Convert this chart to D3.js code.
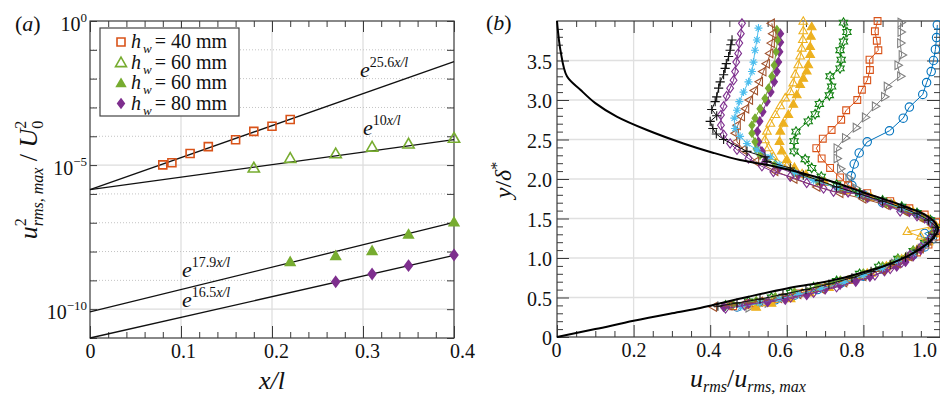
<!DOCTYPE html>
<html><head><meta charset="utf-8">
<script src="https://cdn.jsdelivr.net/npm/d3@7"></script>
<style>
body{margin:0;background:#fff}
svg{display:block}
svg text{fill:#111}
</style>
</head><body>
<svg id="c" width="940" height="400"></svg>
<script>
// ================= DATA: panel (a) =================
const aSqX=[0.08,0.09,0.11,0.13,0.16,0.18,0.20,0.22];
const aSqY=[1.02e-5,1.20e-5,2.51e-5,4.37e-5,7.59e-5,1.48e-4,2.24e-4,3.80e-4];
const aOpenTriX=[0.18,0.22,0.27,0.31,0.35,0.40];
const aOpenTriY=[8.1e-6,1.74e-5,2.51e-5,4.27e-5,5.5e-5,8.7e-5];
const aFillTriX=[0.22,0.27,0.31,0.35,0.40];
const aFillTriY=[4.47e-9,7.24e-9,1.07e-8,3.98e-8,1.07e-7];
const aDiaX=[0.27,0.31,0.35,0.40];
const aDiaY=[8.9e-10,1.66e-9,3.24e-9,7.6e-9];
const fitRates=["25.6","10","17.9","16.5"];
const fitAmps=[1.4e-6,1.4e-6,8e-11,1e-11];
const fitLabelX=[0.2967,0.300,0.101,0.101];
const fitLabelY=[1.14e-2,1.1e-4,1.35e-9,1.2e-10];
const legendValues=["40","60","60","80"];
const aXMajor=[0,0.1,0.2,0.3,0.4];
const aXMinor=[0.02,0.04,0.06,0.08,0.12,0.14,0.16,0.18,0.22,0.24,0.26,0.28,0.32,0.34,0.36,0.38];
const aYDecades=[1,1e-1,1e-2,1e-3,1e-4,1e-5,1e-6,1e-7,1e-8,1e-9,1e-10,1e-11];
const aYLabelled=[[1,"0"],[1e-5,"\u22125"],[1e-10,"\u221210"]];

// ================= DATA: panel (b) =================
const bBlueCircle=[[0.47,0.38],[0.52,0.42],[0.57,0.47],[0.62,0.53],[0.68,0.60],[0.74,0.68],[0.80,0.77],[0.85,0.86],[0.89,0.95],[0.93,1.04],[0.96,1.14],[0.98,1.24],[0.96,1.31],[0.99,1.38],[0.975,1.47],[0.94,1.56],[0.90,1.63],[0.85,1.70],[0.80,1.80],[0.77,1.92],[0.768,2.04],[0.776,2.19],[0.789,2.33],[0.81,2.47],[0.868,2.61],[0.904,2.77],[0.92,2.91],[0.955,3.07],[0.965,3.22],[0.977,3.36],[0.983,3.50],[0.988,3.64],[0.991,3.79],[0.993,3.95]];
const bGreyTri=[[0.50,0.37],[0.55,0.43],[0.60,0.49],[0.66,0.57],[0.72,0.65],[0.78,0.74],[0.84,0.84],[0.88,0.93],[0.92,1.02],[0.95,1.12],[0.98,1.22],[0.99,1.32],[0.985,1.42],[0.96,1.52],[0.92,1.60],[0.88,1.68],[0.82,1.77],[0.78,1.88],[0.761,2.01],[0.739,2.13],[0.73,2.26],[0.73,2.39],[0.752,2.52],[0.78,2.65],[0.804,2.78],[0.83,2.92],[0.854,3.04],[0.861,3.17],[0.896,3.30],[0.889,3.44],[0.90,3.57],[0.896,3.72],[0.897,3.86],[0.897,3.98]];
const bRedSquare=[[0.46,0.39],[0.51,0.43],[0.57,0.48],[0.63,0.55],[0.69,0.62],[0.75,0.70],[0.81,0.79],[0.86,0.88],[0.90,0.97],[0.94,1.07],[0.97,1.17],[0.99,1.27],[1.0,1.37],[0.99,1.46],[0.96,1.55],[0.92,1.63],[0.87,1.72],[0.81,1.82],[0.76,1.92],[0.739,2.02],[0.713,2.14],[0.691,2.26],[0.677,2.39],[0.694,2.51],[0.717,2.62],[0.742,2.75],[0.755,2.87],[0.784,3.00],[0.796,3.13],[0.81,3.25],[0.817,3.38],[0.816,3.51],[0.839,3.63],[0.835,3.75],[0.83,3.87],[0.837,4.0]];
const bDarkGreenHex=[[0.44,0.40],[0.50,0.45],[0.56,0.50],[0.61,0.56],[0.67,0.63],[0.73,0.71],[0.79,0.80],[0.84,0.89],[0.89,0.99],[0.93,1.09],[0.96,1.19],[0.98,1.29],[0.99,1.39],[0.975,1.48],[0.94,1.57],[0.90,1.65],[0.85,1.73],[0.79,1.82],[0.73,1.93],[0.69,2.03],[0.665,2.14],[0.648,2.25],[0.619,2.35],[0.619,2.48],[0.624,2.60],[0.656,2.73],[0.674,2.82],[0.685,2.95],[0.711,3.06],[0.717,3.17],[0.713,3.30],[0.739,3.40],[0.742,3.51],[0.739,3.63],[0.748,3.74],[0.757,3.86],[0.748,3.98]];
const bYellowTri=[[0.52,0.37],[0.56,0.42],[0.61,0.48],[0.66,0.55],[0.71,0.62],[0.77,0.71],[0.82,0.80],[0.87,0.90],[0.91,1.00],[0.94,1.10],[0.97,1.20],[0.985,1.30],[0.99,1.40],[0.97,1.49],[0.93,1.58],[0.88,1.67],[0.82,1.76],[0.76,1.85],[0.70,1.95],[0.65,2.05],[0.62,2.14],[0.60,2.24],[0.587,2.35],[0.581,2.47],[0.583,2.60],[0.591,2.70],[0.604,2.81],[0.617,2.94],[0.626,3.06],[0.635,3.19],[0.643,3.27],[0.652,3.36],[0.656,3.44],[0.661,3.57],[0.661,3.67],[0.663,3.80],[0.665,3.92]];
const bYellowOpenTri=[[0.50,0.39],[0.54,0.43],[0.59,0.49],[0.64,0.55],[0.70,0.63],[0.76,0.71],[0.81,0.80],[0.86,0.89],[0.90,0.98],[0.93,1.08],[0.96,1.18],[0.95,1.27],[0.915,1.33],[0.98,1.40],[0.96,1.50],[0.92,1.59],[0.87,1.68],[0.81,1.77],[0.75,1.86],[0.69,1.96],[0.64,2.06],[0.60,2.16],[0.565,2.28],[0.552,2.39],[0.543,2.49],[0.548,2.60],[0.557,2.70],[0.57,2.81],[0.583,2.92],[0.596,3.02],[0.609,3.10],[0.617,3.21],[0.622,3.32],[0.63,3.44],[0.635,3.55],[0.639,3.65],[0.642,3.76],[0.643,3.87],[0.643,3.99]];
const bPurpleDiamond=[[0.435,0.38],[0.50,0.42],[0.55,0.44],[0.596,0.47],[0.652,0.53],[0.70,0.60],[0.739,0.66],[0.78,0.71],[0.817,0.76],[0.855,0.83],[0.887,0.89],[0.91,0.95],[0.93,1.02],[0.95,1.10],[0.965,1.19],[0.98,1.30],[0.985,1.40],[0.96,1.50],[0.92,1.58],[0.87,1.67],[0.81,1.76],[0.75,1.86],[0.69,1.95],[0.63,2.05],[0.58,2.14],[0.545,2.24],[0.535,2.35],[0.526,2.47],[0.523,2.60],[0.529,2.73],[0.537,2.85],[0.548,2.98],[0.558,3.10],[0.567,3.23],[0.574,3.36],[0.578,3.48],[0.581,3.61],[0.583,3.73],[0.583,3.84]];
const bGreenDiamond=[[0.46,0.41],[0.52,0.46],[0.57,0.51],[0.62,0.57],[0.68,0.64],[0.74,0.72],[0.80,0.81],[0.85,0.90],[0.89,0.99],[0.93,1.10],[0.96,1.20],[0.98,1.31],[0.98,1.41],[0.955,1.51],[0.91,1.60],[0.86,1.69],[0.80,1.78],[0.74,1.87],[0.68,1.97],[0.62,2.08],[0.57,2.19],[0.53,2.30],[0.52,2.38],[0.517,2.47],[0.509,2.58],[0.509,2.68],[0.517,2.77],[0.530,2.89],[0.543,3.02],[0.552,3.15],[0.561,3.30],[0.567,3.44],[0.572,3.61],[0.576,3.76],[0.574,3.89]];
const bBrownTri=[[0.41,0.38],[0.45,0.40],[0.49,0.42],[0.53,0.45],[0.58,0.49],[0.63,0.54],[0.69,0.61],[0.75,0.69],[0.80,0.77],[0.85,0.85],[0.89,0.93],[0.92,1.02],[0.95,1.12],[0.97,1.22],[0.985,1.32],[0.98,1.42],[0.95,1.51],[0.91,1.59],[0.86,1.67],[0.80,1.75],[0.74,1.82],[0.68,1.90],[0.62,2.00],[0.57,2.10],[0.52,2.22],[0.487,2.37],[0.47,2.47],[0.467,2.58],[0.472,2.68],[0.483,2.79],[0.494,2.89],[0.504,3.00],[0.517,3.12],[0.53,3.23],[0.539,3.36],[0.548,3.46],[0.557,3.59],[0.561,3.72],[0.565,3.84],[0.561,3.97]];
const bCyanAsterisk=[[0.48,0.38],[0.53,0.43],[0.58,0.48],[0.63,0.54],[0.69,0.61],[0.75,0.69],[0.80,0.78],[0.85,0.87],[0.89,0.96],[0.93,1.06],[0.96,1.16],[0.98,1.26],[0.99,1.36],[0.975,1.46],[0.94,1.55],[0.90,1.63],[0.85,1.71],[0.79,1.80],[0.73,1.89],[0.67,1.98],[0.62,2.08],[0.58,2.18],[0.557,2.28],[0.522,2.37],[0.496,2.45],[0.478,2.54],[0.465,2.64],[0.463,2.77],[0.47,2.87],[0.476,2.98],[0.487,3.10],[0.50,3.23],[0.509,3.36],[0.513,3.48],[0.517,3.63],[0.522,3.76],[0.526,3.91]];
const bPurpleOpenDiamond=[[0.44,0.36],[0.49,0.40],[0.55,0.45],[0.61,0.50],[0.67,0.56],[0.73,0.63],[0.78,0.70],[0.83,0.78],[0.87,0.86],[0.90,0.94],[0.922,1.04],[0.95,1.14],[0.975,1.25],[0.99,1.35],[0.975,1.45],[0.94,1.53],[0.896,1.59],[0.85,1.70],[0.80,1.80],[0.76,1.83],[0.722,1.84],[0.696,1.88],[0.652,1.95],[0.609,2.03],[0.565,2.09],[0.535,2.16],[0.50,2.26],[0.47,2.37],[0.452,2.45],[0.435,2.56],[0.428,2.68],[0.428,2.81],[0.435,2.92],[0.443,3.05],[0.452,3.15],[0.461,3.25],[0.465,3.36],[0.468,3.48],[0.473,3.59],[0.476,3.72],[0.48,3.84],[0.483,3.97]];
const bBlackPlus=[[0.42,0.39],[0.47,0.43],[0.53,0.48],[0.59,0.54],[0.65,0.60],[0.71,0.67],[0.77,0.75],[0.82,0.83],[0.87,0.92],[0.91,1.01],[0.94,1.10],[0.97,1.20],[0.985,1.30],[0.99,1.39],[0.97,1.48],[0.94,1.56],[0.90,1.64],[0.85,1.72],[0.79,1.81],[0.73,1.90],[0.685,1.98],[0.643,2.05],[0.609,2.14],[0.548,2.22],[0.543,2.28],[0.496,2.35],[0.435,2.50],[0.416,2.57],[0.407,2.64],[0.40,2.73],[0.417,2.80],[0.404,2.88],[0.413,2.98],[0.417,3.04],[0.422,3.15],[0.426,3.23],[0.435,3.32],[0.439,3.40],[0.442,3.46],[0.448,3.55],[0.452,3.63],[0.454,3.70],[0.457,3.76]];
const bCurve=[[0,0],[0.1,0.1],[0.2,0.205],[0.3,0.3],[0.374,0.367],[0.408,0.405],[0.5,0.51],[0.6,0.615],[0.68,0.68],[0.74,0.74],[0.8,0.82],[0.86,0.91],[0.91,1.01],[0.95,1.12],[0.98,1.24],[0.995,1.36],[0.985,1.46],[0.96,1.55],[0.92,1.63],[0.87,1.72],[0.80,1.83],[0.73,1.95],[0.643,2.07],[0.557,2.17],[0.478,2.24],[0.409,2.33],[0.33,2.45],[0.235,2.62],[0.156,2.79],[0.1,2.96],[0.061,3.13],[0.026,3.30],[0.009,3.63],[0.003,3.85],[0,4.0]];
const bXMajor=[0,0.2,0.4,0.6,0.8,1.0];
const bXMinor=[0.05,0.1,0.15,0.25,0.3,0.35,0.45,0.5,0.55,0.65,0.7,0.75,0.85,0.9,0.95];
const bYMajor=[0,0.5,1.0,1.5,2.0,2.5,3.0,3.5];
const bYMinor=[0.1,0.2,0.3,0.4,0.6,0.7,0.8,0.9,1.1,1.2,1.3,1.4,1.6,1.7,1.8,1.9,2.1,2.2,2.3,2.4,2.6,2.7,2.8,2.9,3.1,3.2,3.3,3.4,3.6,3.7,3.8,3.9];

// ================= DRAWING =================
const FONT="Liberation Serif, Liberation Sans, Arimo, Arial, sans-serif";
const svg=d3.select("#c");
const AX="#3a3a3a";

function poly(angles,r){return "M"+angles.map(a=>{const t=a*Math.PI/180;return [r*Math.cos(t),r*Math.sin(t)].map(v=>v.toFixed(2)).join(",");}).join("L")+"Z";}
function markerPath(type,r){
  switch(type){
    case "square": return `M${-r},${-r}h${2*r}v${2*r}h${-2*r}Z`;
    case "circle": return `M${r},0A${r},${r} 0 1,1 ${-r},0A${r},${r} 0 1,1 ${r},0Z`;
    case "triUp": return poly([-90,30,150],r);
    case "triLeft": return poly([180,300,60],r);
    case "triRight": return poly([0,120,240],r);
    case "diamond": return `M0,${-r*1.35}L${r},0L0,${r*1.35}L${-r},0Z`;
    case "plus": return `M${-r},0H${r}M0,${-r}V${r}`;
    case "asterisk": {const k=r*0.7;return `M${-r},0H${r}M0,${-r}V${r}M${-k},${-k}L${k},${k}M${-k},${k}L${k},${-k}`;}
    case "hexagram": {const a=[];for(let i=0;i<12;i++)a.push(-90+i*30);
      return "M"+a.map((ang,i)=>{const rr=i%2?r*0.58:r;const t=ang*Math.PI/180;return (rr*Math.cos(t)).toFixed(2)+","+(rr*Math.sin(t)).toFixed(2);}).join("L")+"Z";}
  }
}
function rich(sel,parts){
  sel.attr("font-family",FONT);
  parts.forEach(p=>{
    const t=sel.append("tspan").text(p.t);
    if(p.size)t.attr("font-size",p.size);
    if(p.it)t.attr("font-style","italic");
    if(p.dy)t.attr("dy",p.dy);
    if(p.dx)t.attr("dx",p.dx);
  });
  return sel;
}
function styleAxis(g){
  g.attr("font-family",FONT);
  g.select(".domain").remove();
  g.selectAll(".tick line").attr("stroke",AX).attr("stroke-width",1);
  g.selectAll("text").attr("font-size",20).attr("fill","#111").attr("font-family",FONT);
}

// ---------- Panel (a) ----------
const xa=d3.scaleLinear().domain([0,0.4]).range([90,454]);
const ya=d3.scaleLog().domain([1e-11,1]).range([338,21]);
const pa=svg.append("g");
pa.selectAll(".gx").data([0.1,0.2,0.3]).join("line")
  .attr("x1",d=>xa(d)).attr("x2",d=>xa(d)).attr("y1",ya(1)).attr("y2",ya(1e-11))
  .attr("stroke","#dcdcdc").attr("stroke-width",1.2);
pa.selectAll(".gy").data(aYDecades.slice(1,-1)).join("line")
  .attr("x1",xa(0)).attr("x2",xa(0.4)).attr("y1",d=>ya(d)).attr("y2",d=>ya(d))
  .attr("stroke",d=>(d===1e-5||d===1e-10)?"#dcdcdc":"#c4c4c4")
  .attr("stroke-width",d=>(d===1e-5||d===1e-10)?1.2:1)
  .attr("stroke-dasharray",d=>(d===1e-5||d===1e-10)?null:"1,2");
const aLabShift=[0,2,4,4,8];
pa.append("g").attr("transform",`translate(0,${ya(1e-11)})`)
  .call(d3.axisBottom(xa).tickValues(aXMajor).tickSizeInner(-12).tickSizeOuter(0).tickPadding(6)
  .tickFormat(d=>d===0?"0":d3.format(".1f")(d))).call(styleAxis)
  .selectAll("text").attr("dx",(d,i)=>aLabShift[i]);
pa.append("g").attr("transform",`translate(0,${ya(1e-11)})`)
  .call(d3.axisBottom(xa).tickValues(aXMinor).tickSizeInner(-6).tickSizeOuter(0).tickFormat("")).call(styleAxis);
pa.append("g").attr("transform",`translate(0,${ya(1)})`)
  .call(d3.axisTop(xa).tickValues(aXMajor).tickSizeInner(-11).tickSizeOuter(0).tickFormat("")).call(styleAxis);
pa.append("g").attr("transform",`translate(0,${ya(1)})`)
  .call(d3.axisTop(xa).tickValues(aXMinor).tickSizeInner(-6).tickSizeOuter(0).tickFormat("")).call(styleAxis);
pa.append("g").attr("transform",`translate(${xa(0)},0)`)
  .call(d3.axisLeft(ya).tickValues(aYDecades).tickSizeInner(-7).tickSizeOuter(0).tickFormat("")).call(styleAxis);
pa.append("g").attr("transform",`translate(${xa(0.4)},0)`)
  .call(d3.axisRight(ya).tickValues(aYDecades).tickSizeInner(-7).tickSizeOuter(0).tickFormat("")).call(styleAxis);
aYLabelled.forEach(([v,e])=>{
  rich(pa.append("text").attr("x",xa(0)-3).attr("y",ya(v)+10).attr("text-anchor","end").attr("font-size",20),
    [{t:"10"},{t:e,size:13,dy:-9}]);
});
pa.append("rect").attr("x",xa(0)).attr("y",ya(1)).attr("width",xa(0.4)-xa(0)).attr("height",ya(1e-11)-ya(1))
  .attr("fill","none").attr("stroke",AX).attr("stroke-width",1.2);
fitRates.forEach((k,i)=>{
  const f=x=>fitAmps[i]*Math.exp(+k*x);
  pa.append("path").attr("d",d3.line()([[xa(0),ya(f(0))],[xa(0.4),ya(f(0.4))]]))
    .attr("stroke","#111").attr("stroke-width",1.3).attr("fill","none");
  rich(pa.append("text").attr("x",xa(fitLabelX[i])).attr("y",ya(fitLabelY[i])).attr("font-size",22),
    [{t:"e",it:true},{t:k,size:14,dy:-10},{t:"x/l",it:true,size:14}]);
});
const aSeries=[
  {x:aSqX,y:aSqY,type:"square",r:4,fill:"none",c:"#D95319"},
  {x:aOpenTriX,y:aOpenTriY,type:"triUp",r:6.5,fill:"none",c:"#77AC30"},
  {x:aFillTriX,y:aFillTriY,type:"triUp",r:5.5,fill:"#77AC30",c:"#77AC30"},
  {x:aDiaX,y:aDiaY,type:"diamond",r:3.8,fill:"#7E2F8E",c:"#7E2F8E"}
];
aSeries.forEach(s=>{
  pa.selectAll(null).data(s.x.map((x,i)=>[x,s.y[i]])).join("path")
    .attr("transform",d=>`translate(${xa(d[0])},${ya(d[1])+(s.type==="triUp"?1:0)})`)
    .attr("d",markerPath(s.type,s.r)).attr("fill",s.fill).attr("stroke",s.c).attr("stroke-width",1.6);
});
const lg=pa.append("g");
lg.append("rect").attr("x",100).attr("y",28).attr("width",139).attr("height",88)
  .attr("fill","#fff").attr("stroke","#444").attr("stroke-width",1.2);
legendValues.forEach((v,i)=>{
  const yb=48+i*20.5;
  const s=aSeries[i];
  lg.append("path").attr("transform",`translate(121,${yb-6+(s.type==="triUp"?1:0)})`)
    .attr("d",markerPath(s.type,s.type==="diamond"?3.3:(s.type==="square"?4:(s.fill==="none"?6.3:5))))
    .attr("fill",s.fill).attr("stroke",s.c).attr("stroke-width",1.6);
  rich(lg.append("text").attr("x",131).attr("y",yb).attr("font-size",20),
    [{t:"h",it:true},{t:"w",it:true,size:13,dy:5,dx:2},{t:"= "+v+" mm",dy:-5,dx:3}]);
});
rich(svg.append("text").attr("x",15).attr("y",31).attr("font-size",22),[{t:"("},{t:"a",it:true},{t:")"}]);
rich(svg.append("text").attr("x",272).attr("y",389).attr("text-anchor","middle").attr("font-size",26),[{t:"x/l",it:true}]);
rich(svg.append("text").attr("transform","translate(37,180) rotate(-90)").attr("text-anchor","middle").attr("font-size",26),
  [{t:"u",it:true},{t:"2",size:16,dy:-11},{t:"rms, max",it:true,size:16,dx:-8,dy:17},{t:" / ",dy:-6},{t:"U",it:true},{t:"2",size:16,dy:-11},{t:"0",size:16,dx:-8,dy:17}]);

// ---------- Panel (b) ----------
const xb=d3.scaleLinear().domain([0,1]).range([557,940]);
const yb=d3.scaleLinear().domain([0,4]).range([337,21]);
const pb=svg.append("g");
pb.selectAll(".gx").data([0.2,0.4,0.6,0.8]).join("line")
  .attr("x1",d=>xb(d)).attr("x2",d=>xb(d)).attr("y1",yb(4)).attr("y2",yb(0))
  .attr("stroke","#e0e0e0").attr("stroke-width",1.3);
pb.selectAll(".gy").data(bYMajor.slice(1)).join("line")
  .attr("x1",xb(0)).attr("x2",xb(1)).attr("y1",d=>yb(d)).attr("y2",d=>yb(d))
  .attr("stroke","#e0e0e0").attr("stroke-width",1.3);
const bLabShift=[-1,0,-2,-7,-12,-16];
pb.append("g").attr("transform",`translate(0,${yb(0)})`)
  .call(d3.axisBottom(xb).tickValues(bXMajor).tickSizeInner(-12).tickSizeOuter(0).tickPadding(6)
  .tickFormat(d=>d===0?"0":d3.format(".1f")(d))).call(styleAxis)
  .selectAll("text").attr("dx",(d,i)=>bLabShift[i]);
pb.append("g").attr("transform",`translate(0,${yb(0)})`)
  .call(d3.axisBottom(xb).tickValues(bXMinor).tickSizeInner(-6).tickSizeOuter(0).tickFormat("")).call(styleAxis);
pb.append("g").attr("transform",`translate(0,${yb(4)})`)
  .call(d3.axisTop(xb).tickValues(bXMajor).tickSizeInner(-12).tickSizeOuter(0).tickFormat("")).call(styleAxis);
pb.append("g").attr("transform",`translate(0,${yb(4)})`)
  .call(d3.axisTop(xb).tickValues(bXMinor).tickSizeInner(-6).tickSizeOuter(0).tickFormat("")).call(styleAxis);
pb.append("g").attr("transform",`translate(${xb(0)},0)`)
  .call(d3.axisLeft(yb).tickValues(bYMajor).tickSizeInner(-12).tickSizeOuter(0).tickPadding(5)
  .tickFormat(d=>d===0?"0":d3.format(".1f")(d))).call(styleAxis)
  .selectAll("text").attr("dy","0.38em");
pb.append("g").attr("transform",`translate(${xb(0)},0)`)
  .call(d3.axisLeft(yb).tickValues(bYMinor).tickSizeInner(-6).tickSizeOuter(0).tickFormat("")).call(styleAxis);
pb.append("g").attr("transform",`translate(${xb(1)},0)`)
  .call(d3.axisRight(yb).tickValues(bYMajor).tickSizeInner(-13).tickSizeOuter(0).tickFormat("")).call(styleAxis);
pb.append("g").attr("transform",`translate(${xb(1)},0)`)
  .call(d3.axisRight(yb).tickValues(bYMinor).tickSizeInner(-6).tickSizeOuter(0).tickFormat("")).call(styleAxis);
pb.append("rect").attr("x",xb(0)).attr("y",yb(4)).attr("width",xb(1)-xb(0)).attr("height",yb(0)-yb(4))
  .attr("fill","none").attr("stroke",AX).attr("stroke-width",1.2);

const bSeries=[
  {d:bBlueCircle,type:"circle",r:4.2,c:"#0072BD",fill:"none"},
  {d:bGreyTri,type:"triRight",r:5,c:"#808080",fill:"none"},
  {d:bRedSquare,type:"square",r:3.4,c:"#D95319",fill:"none"},
  {d:bDarkGreenHex,type:"hexagram",r:4.8,c:"#118011",fill:"none"},
  {d:bYellowTri,type:"triUp",r:5,c:"#EDB120",fill:"#EDB120"},
  {d:bYellowOpenTri,type:"triUp",r:5,c:"#EDB120",fill:"none"},
  {d:bPurpleDiamond,type:"diamond",r:3.3,c:"#7E2F8E",fill:"#7E2F8E"},
  {d:bGreenDiamond,type:"diamond",r:3,c:"#77AC30",fill:"#77AC30"},
  {d:bBrownTri,type:"triLeft",r:5,c:"#A0522D",fill:"none"},
  {d:bCyanAsterisk,type:"asterisk",r:4,c:"#4DBEEE",fill:"none"},
  {d:bPurpleOpenDiamond,type:"diamond",r:3.4,c:"#7E2F8E",fill:"none"},
  {d:bBlackPlus,type:"plus",r:4.6,c:"#111",fill:"none"}
];
const lineB=d3.line().x(d=>xb(d[0])).y(d=>yb(d[1]));
bSeries.forEach(s=>{
  const g=pb.append("g");
  g.append("path").attr("d",lineB(s.d)).attr("fill","none").attr("stroke",s.c).attr("stroke-width",1);
  g.selectAll("path.m").data(s.d).join("path").attr("class","m")
    .attr("transform",d=>`translate(${xb(d[0])},${yb(d[1])})`)
    .attr("d",markerPath(s.type,s.r)).attr("fill",s.fill).attr("stroke",s.c).attr("stroke-width",1.1);
});
pb.append("path").attr("d",lineB.curve(d3.curveCatmullRom)(bCurve))
  .attr("fill","none").attr("stroke","#000").attr("stroke-width",2);

rich(svg.append("text").attr("x",486).attr("y",30).attr("font-size",22),[{t:"("},{t:"b",it:true},{t:")"}]);
rich(svg.append("text").attr("x",748).attr("y",387).attr("text-anchor","middle").attr("font-size",26),
  [{t:"u",it:true},{t:"rms",it:true,size:16,dy:5},{t:"/",dy:-5},{t:"u",it:true},{t:"rms, max",it:true,size:16,dy:5}]);
rich(svg.append("text").attr("transform","translate(511,180) rotate(-90)").attr("text-anchor","middle").attr("font-size",24),
  [{t:"y",it:true},{t:"/"},{t:"\u03b4",it:true},{t:"*",size:16,dy:-9}]);
</script>
</body></html>
